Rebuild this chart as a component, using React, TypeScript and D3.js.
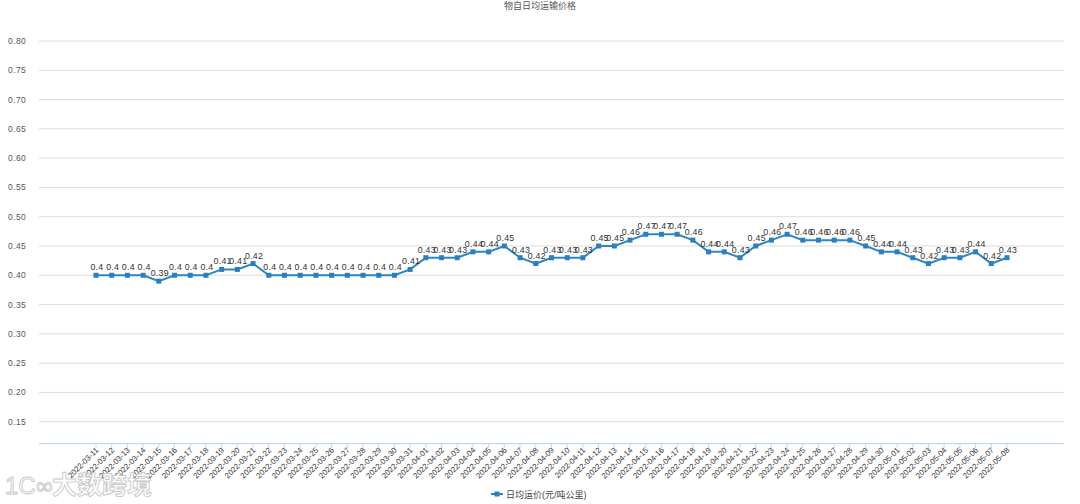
import React from "react";
import * as d3 from "d3";

const title = "物自日均运输价格";
const seriesName = "日均运价(元/吨公里)";

const dates: string[] = [
  "2022-03-11","2022-03-12","2022-03-13","2022-03-14","2022-03-15","2022-03-16","2022-03-17","2022-03-18","2022-03-19","2022-03-20",
  "2022-03-21","2022-03-22","2022-03-23","2022-03-24","2022-03-25","2022-03-26","2022-03-27","2022-03-28","2022-03-29","2022-03-30",
  "2022-03-31","2022-04-01","2022-04-02","2022-04-03","2022-04-04","2022-04-05","2022-04-06","2022-04-07","2022-04-08","2022-04-09",
  "2022-04-10","2022-04-11","2022-04-12","2022-04-13","2022-04-14","2022-04-15","2022-04-16","2022-04-17","2022-04-18","2022-04-19",
  "2022-04-20","2022-04-21","2022-04-22","2022-04-23","2022-04-24","2022-04-25","2022-04-26","2022-04-27","2022-04-28","2022-04-29",
  "2022-04-30","2022-05-01","2022-05-02","2022-05-03","2022-05-04","2022-05-05","2022-05-06","2022-05-07","2022-05-08",
];

const prices: number[] = [
  0.4,0.4,0.4,0.4,0.39,0.4,0.4,0.4,0.41,0.41,
  0.42,0.4,0.4,0.4,0.4,0.4,0.4,0.4,0.4,0.4,
  0.41,0.43,0.43,0.43,0.44,0.44,0.45,0.43,0.42,0.43,
  0.43,0.43,0.45,0.45,0.46,0.47,0.47,0.47,0.46,0.44,
  0.44,0.43,0.45,0.46,0.47,0.46,0.46,0.46,0.46,0.45,
  0.44,0.44,0.43,0.42,0.43,0.43,0.44,0.42,0.43,
];

const yTicks: number[] = [0.15,0.2,0.25,0.3,0.35,0.4,0.45,0.5,0.55,0.6,0.65,0.7,0.75,0.8];

const W = 1080, H = 504;
const plotLeft = 39, plotRight = 1064;
const FONT = "'Liberation Sans', 'Noto Sans CJK SC', sans-serif";
const BLUE = "#2e86c1";

export default function App() {
  const x = d3.scalePoint<string>().domain(dates).range([96, 1007]);
  const y = d3.scaleLinear().domain([0.15, 0.8]).range([421.7, 41]);
  const axisY = y(0.15) + 22;
  const line = d3.line<number>()
    .x((_, i) => x(dates[i]) as number)
    .y((d) => y(d));
  const fmt = (v: number) => String(+v.toFixed(2));

  return (
    <svg width={W} height={H} style={{ position: "absolute", left: 0, top: 0, background: "#fff" }} fontFamily={FONT}>
      <rect width={W} height={H} fill="#fff" />
      <text x={540} y={9} textAnchor="middle" fontSize={9} fill="#555">{title}</text>
      {yTicks.map((t) => (
        <g key={t}>
          <line x1={plotLeft} x2={plotRight} y1={y(t)} y2={y(t)} stroke="#dcdcdc" strokeWidth={1} />
          <text x={8} y={y(t) + 3} fontSize={8.5} fill="#555" letterSpacing={0.4}>{t.toFixed(2)}</text>
        </g>
      ))}
      <line x1={plotLeft} x2={plotRight} y1={axisY} y2={axisY} stroke="#b5cfe3" strokeWidth={1} />
      {dates.map((d) => {
        const px = x(d) as number;
        return (
          <g key={d}>
            <line x1={px} x2={px} y1={axisY} y2={axisY + 4} stroke="#c5d8e8" strokeWidth={1} />
            <text
              transform={`translate(${px + 3},${axisY + 7}) rotate(-45)`}
              textAnchor="end"
              fontSize={7.8}
              fill="#333"
            >{d}</text>
          </g>
        );
      })}
      <path d={line(prices) || ""} fill="none" stroke={BLUE} strokeWidth={2} />
      {prices.map((v, i) => {
        const px = x(dates[i]) as number;
        const py = y(v);
        return (
          <g key={i}>
            <rect x={px - 2.5} y={py - 2.5} width={5} height={5} fill="#2a7fc0" />
            <text x={px + 1} y={py - 5} textAnchor="middle" fontSize={8.8} fill="#333" letterSpacing={0.3}>{fmt(v)}</text>
          </g>
        );
      })}
      <g>
        <line x1={491} x2={503} y1={494} y2={494} stroke={BLUE} strokeWidth={2} />
        <rect x={494.5} y={491.5} width={5} height={5} fill="#2a7fc0" />
        <text x={506} y={497.5} fontSize={9} fill="#444">{seriesName}</text>
      </g>
      <text x={52} y={494} fontSize={25} fontWeight="bold" fill="#fff" stroke="#c8c8c8" strokeWidth={0.9}>大数跨境</text>
      <text x={5} y={494} fontSize={24} fill="#fff" stroke="#c8c8c8" strokeWidth={0.9}>1C∞</text>
    </svg>
  );
}
